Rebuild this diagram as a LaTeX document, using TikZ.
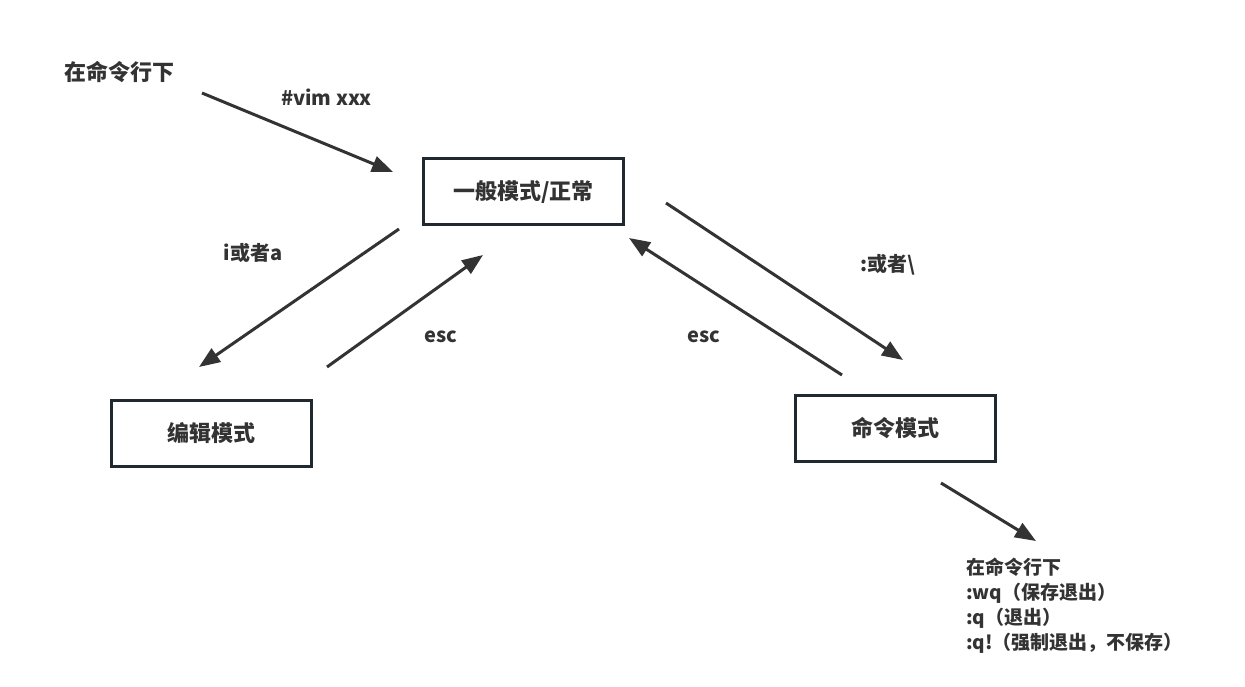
\documentclass[tikz,border=0pt]{standalone}
\usepackage{fontspec}
\setmainfont{Noto Sans CJK SC}
\usepackage{tikz}
\usetikzlibrary{arrows.meta}
\definecolor{vimgray}{RGB}{51, 51, 51}
\definecolor{vimborder}{RGB}{33, 41, 48}

\begin{document}
\begin{tikzpicture}[
    x=1pt, y=-1pt,
    box/.style={rectangle, draw=vimborder, line width=3pt, minimum width=200pt, minimum height=66pt, text centered, text=vimgray, font=\fontsize{22}{26}\selectfont\bfseries},
    note/.style={text=vimgray, inner sep=0pt, font=\fontsize{20}{24}\selectfont\bfseries},
    arrow/.style={-{Triangle[length=21pt, width=16pt]}, line width=3pt, vimgray}
]

\useasboundingbox (0,0) rectangle (1245,687);

\node[box] (normal) at (523.5,192) {一般模式/正常};
\node[box] (insert) at (211,433.5) {编辑模式};
\node[box] (command) at (895.5,428) {命令模式};

\node[note, font=\fontsize{22}{26}\selectfont\bfseries] (shell) at (119,72) {在命令行下};
\node[note] (vimcmd) at (326.5,97) {\#vim xxx};
\node[note] (insertkey) at (253,253) {i或者a};
\node[note] (escleft) at (441,337) {esc};
\node[note] (colonkey) at (887.5,265) {:或者\textbackslash};
\node[note] (escright) at (704,337) {esc};
\node[note, anchor=north west, align=left, font=\fontsize{19}{25}\selectfont\bfseries] (quitcmds) at (966,558)
    {在命令行下\\:wq（保存退出）\\:q（退出）\\:q!（强制退出，不保存）};

\coordinate (shellS) at (202,93);
\coordinate (shellE) at (393,172);
\coordinate (insertS) at (399,229);
\coordinate (insertE) at (199,367);
\coordinate (escleftS) at (327,367);
\coordinate (escleftE) at (483,255);
\coordinate (colonS) at (666,203);
\coordinate (colonE) at (903,360);
\coordinate (escrightS) at (842,375);
\coordinate (escrightE) at (629,238);
\coordinate (quitS) at (941,483);
\coordinate (quitE) at (1036,541);

\draw[arrow] (shellS) -- (shellE);
\draw[arrow] (insertS) -- (insertE);
\draw[arrow] (escleftS) -- (escleftE);
\draw[arrow] (colonS) -- (colonE);
\draw[arrow] (escrightS) -- (escrightE);
\draw[arrow] (quitS) -- (quitE);

\end{tikzpicture}
\end{document}
